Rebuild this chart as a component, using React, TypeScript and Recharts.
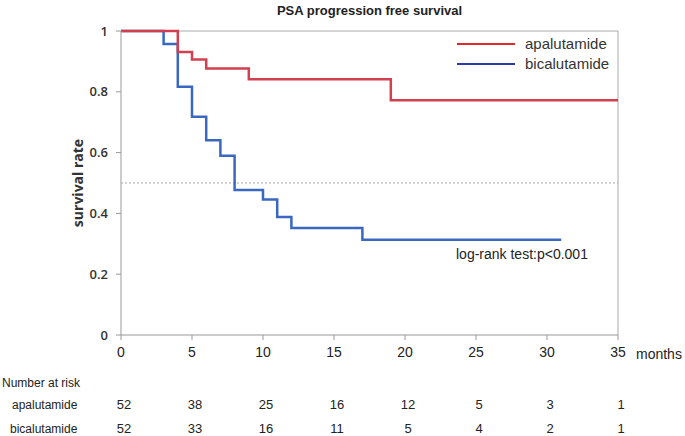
import React from "react";
import { ComposedChart, Line, XAxis, YAxis, ReferenceLine } from "recharts";

// Kaplan-Meier step points (months, survival)
const apaTimes = [0, 4, 5, 6, 9, 19, 35];
const apaSurv = [1, 0.931, 0.906, 0.877, 0.841, 0.772, 0.772];
const bicTimes = [0, 3, 4, 5, 6, 7, 8, 10, 11, 12, 17, 31];
const bicSurv = [1, 0.957, 0.817, 0.718, 0.641, 0.59, 0.477, 0.446, 0.388, 0.352, 0.313, 0.313];

const xTicks = [0, 5, 10, 15, 20, 25, 30, 35];
const yTicks = [0, 0.2, 0.4, 0.6, 0.8, 1];
const apaRisk = [52, 38, 25, 16, 12, 5, 3, 1];
const bicRisk = [52, 33, 16, 11, 5, 4, 2, 1];

const apaData = apaTimes.map((t, i) => ({ t, s: apaSurv[i] }));
const bicData = bicTimes.map((t, i) => ({ t, s: bicSurv[i] }));

const W = 685;
const H = 436;
const margin = { top: 31, right: 67, bottom: 71, left: 0 };
const yAxisW = 121;
const plotLeft = margin.left + yAxisW;
const plotW = W - plotLeft - margin.right;
const xPos = (t: number) => plotLeft + (t / 35) * plotW;

const narrow = "'Liberation Sans Narrow', 'Liberation Sans', Arial, sans-serif";

const txt: React.CSSProperties = { position: "absolute", color: "#222", whiteSpace: "nowrap", lineHeight: 1 };

export default function App() {
  return (
    <div style={{ position: "absolute", left: 0, top: 0, width: W, height: H, background: "#fff", fontFamily: "'Liberation Sans', Arial, sans-serif" }}>
      <ComposedChart width={W} height={H} margin={margin}>
        <XAxis
          type="number"
          dataKey="t"
          domain={[0, 35]}
          ticks={xTicks}
          height={30}
          stroke="#999"
          tickSize={5}
          tickMargin={7}
          tick={{ fill: "#222", fontSize: 14, fontFamily: narrow }}
        />
        <YAxis
          type="number"
          domain={[0, 1]}
          ticks={yTicks}
          width={yAxisW}
          stroke="#999"
          tickSize={5}
          tickMargin={8}
          tick={{ fill: "#333", fontSize: 13, fontFamily: "'Open Sans', sans-serif", fontWeight: 600 }}
          tickFormatter={(v: number) => (v === 0 || v === 1 ? String(v) : v.toFixed(1))}
        />
        <ReferenceLine y={1} stroke="#aaa" />
        <ReferenceLine x={35} stroke="#aaa" />
        <ReferenceLine y={0.5} stroke="#aaa" strokeDasharray="2 2" />
        <Line
          data={bicData}
          dataKey="s"
          type="stepAfter"
          stroke="#3a68c0"
          strokeWidth={2.5}
          dot={false}
          isAnimationActive={false}
        />
        <Line
          data={apaData}
          dataKey="s"
          type="stepAfter"
          stroke="#d2404f"
          strokeWidth={2.5}
          dot={false}
          isAnimationActive={false}
        />
      </ComposedChart>

      <div style={{ ...txt, left: plotLeft, top: 4, width: plotW, textAlign: "center", fontSize: 13, fontWeight: 700 }}>
        PSA progression free survival
      </div>

      <div style={{ ...txt, left: 78, top: 183, transform: "translate(-50%, -50%) rotate(-90deg)", fontSize: 14, fontWeight: 700, color: "#333", fontFamily: "'Open Sans', sans-serif" }}>
        survival rate
      </div>

      {/* legend */}
      <div style={{ position: "absolute", left: 457, top: 34, fontSize: 15, color: "#333", lineHeight: "20px" }}>
        <div style={{ display: "flex", alignItems: "center" }}>
          <span style={{ display: "inline-block", width: 58, height: 1.5, background: "#e02a2a", marginRight: 10 }} />
          apalutamide
        </div>
        <div style={{ display: "flex", alignItems: "center" }}>
          <span style={{ display: "inline-block", width: 58, height: 1.5, background: "#2a3aa8", marginRight: 10 }} />
          bicalutamide
        </div>
      </div>

      <div style={{ ...txt, left: 456, top: 247, fontSize: 14 }}>log-rank test:p&lt;0.001</div>

      <div style={{ ...txt, left: 636, top: 347, fontSize: 14, fontFamily: narrow }}>months</div>

      <div style={{ ...txt, left: 2, top: 377, fontSize: 12, fontFamily: narrow }}>Number at risk</div>
      <div style={{ ...txt, left: 12, top: 399, fontSize: 12, fontFamily: narrow }}>apalutamide</div>
      <div style={{ ...txt, left: 10, top: 423, fontSize: 12, fontFamily: narrow }}>bicalutamide</div>

      {xTicks.map((t, i) => (
        <React.Fragment key={t}>
          <div style={{ ...txt, left: xPos(t) + 3, top: 398, transform: "translateX(-50%)", fontSize: 13, fontFamily: narrow }}>
            {apaRisk[i]}
          </div>
          <div style={{ ...txt, left: xPos(t) + 3, top: 422, transform: "translateX(-50%)", fontSize: 13, fontFamily: narrow }}>
            {bicRisk[i]}
          </div>
        </React.Fragment>
      ))}
    </div>
  );
}
